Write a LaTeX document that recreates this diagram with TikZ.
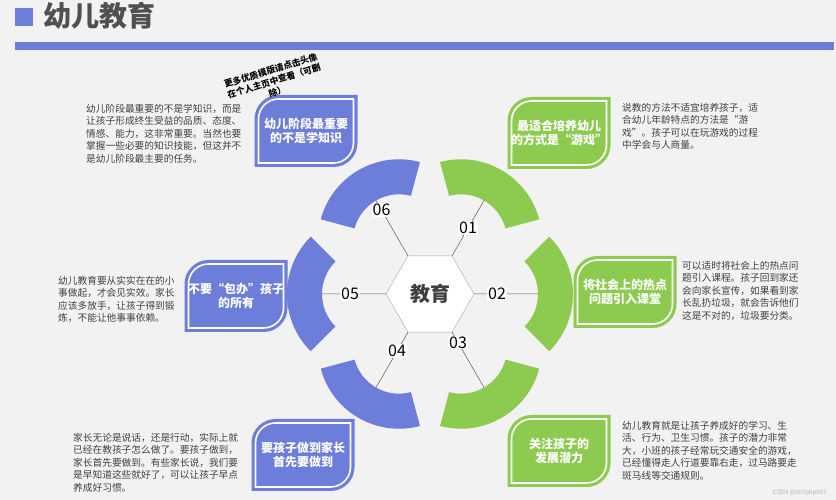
\documentclass[tikz,border=0pt]{standalone}
\usepackage{fontspec}
\setmainfont{Noto Sans CJK SC}
\usetikzlibrary{shapes.geometric,calc}
\definecolor{leafblue}{RGB}{108,125,218}
\definecolor{leafgreen}{RGB}{140,203,80}
\definecolor{paper}{RGB}{242,242,242}
\definecolor{ink}{RGB}{64,64,64}
\definecolor{titlegray}{RGB}{80,80,80}
\newcommand{\leafcard}[4]{%
  \begin{scope}[shift={(#2)}]
    \fill[#3] (51.5,36) -- (-27.5,36) arc[start angle=90,end angle=180,radius=24pt] -- (-51.5,-36) -- (27.5,-36) arc[start angle=-90,end angle=0,radius=24pt] -- cycle;
    \draw[white,line width=1.6pt] (47.5,32) -- (-27.5,32) arc[start angle=90,end angle=180,radius=20pt] -- (-47.5,-32) -- (27.5,-32) arc[start angle=-90,end angle=0,radius=20pt] -- cycle;
  \end{scope}
  \node[cardtext] (#1) at (#2) {#4};}
\begin{document}
\begin{tikzpicture}[x=1pt,y=1pt,
    cardtext/.style={text=white,font=\bfseries\fontsize{12}{14}\selectfont,align=center},
    note/.style={text=ink,font=\fontsize{9.7}{12.5}\selectfont,align=left,anchor=north west,inner sep=0pt},
    num/.style={fill=white,inner sep=1pt,font=\fontsize{16}{16}\selectfont},
    wire/.style={draw=gray!70!black,line width=0.5pt}]
  \useasboundingbox (0,0) rectangle (836,500);
  \fill[paper] (0,0) rectangle (836,500);
  \fill[leafblue] (15,474) rectangle (33,492);
  \node[anchor=west,text=titlegray,font=\bfseries\fontsize{28}{28}\selectfont] (title) at (40,484) {幼儿教育};
  \fill[leafblue] (15,450) rectangle (834,458);
  \coordinate (c) at (430,206);
  \foreach \n/\a/\c in {1/60/leafgreen,2/0/leafgreen,3/-60/leafgreen,4/-120/leafblue,5/180/leafblue,6/120/leafblue}{
    \coordinate (arc\n) at ($(c)+(\a:62pt)$);
    \fill[\c] ($(arc\n)+(\a-45:46pt)$) arc[start angle=\a-45,end angle=\a+45,radius=46pt] -- ($(arc\n)+(\a+45:81pt)$) arc[start angle=\a+45,end angle=\a-45,radius=81pt] -- cycle;
    \coordinate (tip\n) at ($(c)+(\a:108pt)$);
  }
  \node[regular polygon,regular polygon sides=6,minimum size=88pt,inner sep=0pt,outer sep=0pt,fill=white,draw=gray!70,text=ink,font=\bfseries\fontsize{20}{20}\selectfont] (hub) at (c) {教育};
  \foreach \n/\a/\r in {1/60/76,2/0/67,3/-60/56,4/-120/66,5/180/80,6/120/97}{
    \draw[wire] (hub.\a) -- (tip\n);
    \node[num] (lab\n) at ($(c)+(\a:\r pt)$) {0\n};
  }
  \leafcard{card6}{306,369}{leafblue}{幼儿阶段最重要\\的不是学知识}
  \leafcard{card1}{559,367}{leafgreen}{最适合培养幼儿\\的方式是“游戏”}
  \leafcard{card5}{236,204}{leafblue}{不要“包办”孩子\\的所有}
  \leafcard{card2}{625,208}{leafgreen}{将社会上的热点\\问题引入课堂}
  \leafcard{card4}{303,45}{leafblue}{要孩子做到家长\\首先要做到}
  \leafcard{card3}{559,49}{leafgreen}{关注孩子的\\发展潜力}
  \node[note] (note6) at (86,396) {幼儿阶段最重要的不是学知识，而是\\让孩子形成终生受益的品质、态度、\\情感、能力，这非常重要。当然也要\\掌握一些必要的知识技能，但这并不\\是幼儿阶段最主要的任务。};
  \node[note] (note1) at (622,397) {说教的方法不适宜培养孩子，适\\合幼儿年龄特点的方法是“游\\戏”。孩子可以在玩游戏的过程\\中学会与人商量。};
  \node[note] (note5) at (58,224) {幼儿教育要从实实在在的小\\事做起，才会见实效。家长\\应该多放手，让孩子得到锻\\炼，不能让他事事依赖。};
  \node[note] (note2) at (682,239) {可以适时将社会上的热点问\\题引入课程。孩子回到家还\\会向家长宣传，如果看到家\\长乱扔垃圾，就会告诉他们\\这是不对的，垃圾要分类。};
  \node[note] (note4) at (73,67) {家长无论是说话，还是行动，实际上就\\已经在教孩子怎么做了。要孩子做到，\\家长首先要做到。有些家长说，我们要\\是早知道这些就好了，可以让孩子早点\\养成好习惯。};
  \node[note] (note3) at (622,79) {幼儿教育就是让孩子养成好的学习、生\\活、行为、卫生习惯。孩子的潜力非常\\大，小班的孩子经常玩交通安全的游戏，\\已经懂得走人行道要靠右走，过马路要走\\斑马线等交通规则。};
  \node[rotate=17,align=center,inner sep=0pt,font=\bfseries\fontsize{8.8}{11}\selectfont] (mark) at (274,419) {更多优质模版请点击头像\\在个人主页中查看（可删\\除）};
  \node[anchor=east,text=gray!60,font=\fontsize{6}{6}\selectfont] (csdn) at (830,7) {CSDN @007php007};
\end{tikzpicture}
\end{document}
